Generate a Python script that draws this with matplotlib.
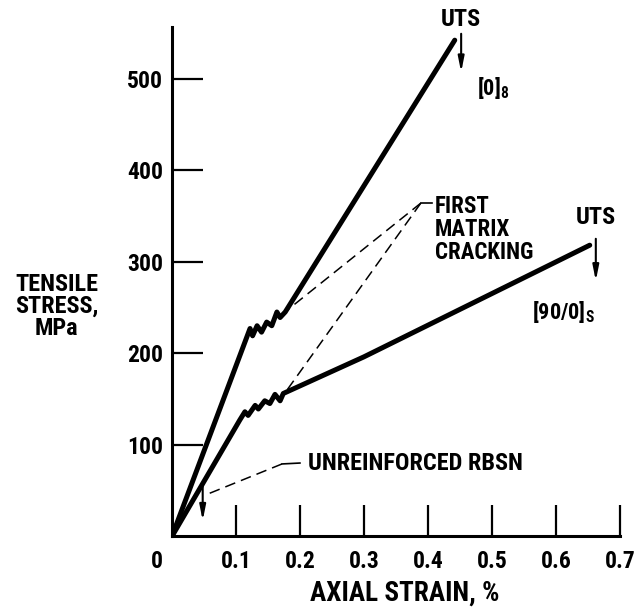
import matplotlib
matplotlib.use('Agg')
import matplotlib.pyplot as plt
from matplotlib import font_manager

# pick a narrow bold face if one is installed
have = {(f.name, f.stretch) for f in font_manager.fontManager.ttflist}
names = {n for n, s in have}
face, stretch = 'Roboto', 'normal'
for cand in ['Liberation Sans Narrow', 'Roboto Condensed', 'Open Sans Condensed', 'Noto Sans Condensed']:
    if cand in names:
        face = cand
        break
else:
    for n, s in have:
        if n == 'DejaVu Sans' and s in ('condensed', 'semi-condensed', 600, 700, 'semicondensed'):
            face, stretch = 'DejaVu Sans', s
            break

plt.rcParams['font.family'] = [face, 'DejaVu Sans']
plt.rcParams['font.stretch'] = stretch
plt.rcParams['font.weight'] = 'bold'
plt.rcParams['axes.labelweight'] = 'bold'
plt.rcParams['mathtext.fontset'] = 'custom'
plt.rcParams['mathtext.rm'] = face + ':bold'
plt.rcParams['mathtext.it'] = face + ':bold'
plt.rcParams['mathtext.bf'] = face + ':bold'
plt.rcParams['mathtext.default'] = 'rm'

# [0]8 laminate
strain_0 = [0, 0.122, 0.126, 0.133, 0.140, 0.148, 0.156, 0.164, 0.169, 0.177, 0.442]
stress_0 = [0, 227, 219, 230, 223, 234, 230, 245, 239, 245, 542]

# [90/0]s laminate
strain_90 = [0, 0.106, 0.114, 0.119, 0.130, 0.135, 0.145, 0.153, 0.161, 0.169, 0.174, 0.30, 0.653]
stress_90 = [0, 127, 136, 132, 143, 139, 148, 145, 155, 148, 156, 196, 318]

xticks = [0.1, 0.2, 0.3, 0.4, 0.5, 0.6, 0.7]
yticks = [100, 200, 300, 400, 500]

fig = plt.figure(figsize=(6.37, 6.08), dpi=100)
ax = fig.add_axes([0.27, 0.118, 0.703, 0.837])

ax.plot(strain_0, stress_0, color='k', lw=3.6, solid_joinstyle='round', solid_capstyle='round')
ax.plot(strain_90, stress_90, color='k', lw=3.6, solid_joinstyle='round', solid_capstyle='round')

ax.set_xlim(0, 0.7)
ax.set_ylim(0, 556)
ax.spines['top'].set_visible(False)
ax.spines['right'].set_visible(False)
ax.spines['left'].set_linewidth(2.2)
ax.spines['bottom'].set_linewidth(2.2)

ax.set_xticks(xticks)
ax.set_xticklabels([str(t) for t in xticks])
ax.set_yticks(yticks)
ax.tick_params(axis='x', direction='in', length=22, width=1.6, pad=10, labelsize=17)
ax.tick_params(axis='y', direction='in', length=22, width=1.6, pad=6.5, labelsize=17)

# "0" at origin sits a little left
ax.annotate('0', xy=(0, 0), xytext=(-15, -14), textcoords='offset pixels',
            ha='center', va='top', fontsize=17, annotation_clip=False)

ax.set_xlabel('AXIAL STRAIN, %', fontsize=19.5)
ax.xaxis.set_label_coords(0.519, -0.085)
ax.set_ylabel('TENSILE\nSTRESS,\nMPa', fontsize=17.5, rotation=0, ha='center', va='center',
              linespacing=0.95)
ax.yaxis.set_label_coords(-0.257, 0.452)

# UTS arrows
arrow = dict(arrowstyle='-|>,head_width=0.18,head_length=0.9', lw=1.5, color='k', shrinkA=0, shrinkB=0)
ax.text(0.4516, 565, 'UTS', ha='center', va='center', fontsize=17.5, clip_on=False)
ax.annotate('', xy=(0.452, 507), xytext=(0.452, 549), arrowprops=arrow, annotation_clip=False)
ax.text(0.477, 490, '[0]$_8$', ha='left', va='center', fontsize=16)

ax.text(0.6625, 348, 'UTS', ha='center', va='center', fontsize=17.5)
ax.annotate('', xy=(0.6625, 279), xytext=(0.6625, 325), arrowprops=arrow)
ax.text(0.562, 245, '[90/0]$_S$', ha='left', va='center', fontsize=16)

# first matrix cracking leaders
ax.plot([0.389, 0.406], [364, 364], color='k', lw=1.2)
ax.plot([0.389, 0.173], [364, 243], color='k', lw=1.1, ls=(0, (7, 4)))
ax.plot([0.389, 0.177], [364, 157], color='k', lw=1.1, ls=(0, (7, 4)))
ax.text(0.411, 335, 'FIRST\nMATRIX\nCRACKING', ha='left', va='center', fontsize=16.5,
        linespacing=1.0)

# unreinforced RBSN
ax.annotate('', xy=(0.048, 17), xytext=(0.048, 56), arrowprops=arrow)
ax.plot([0.059, 0.172], [47, 79], color='k', lw=1.1, ls=(0, (7, 4)))
ax.plot([0.172, 0.2], [79, 80], color='k', lw=1.2)
ax.text(0.2125, 80, 'UNREINFORCED RBSN', ha='left', va='center', fontsize=17.5)

fig.savefig('out.png', dpi=100)
